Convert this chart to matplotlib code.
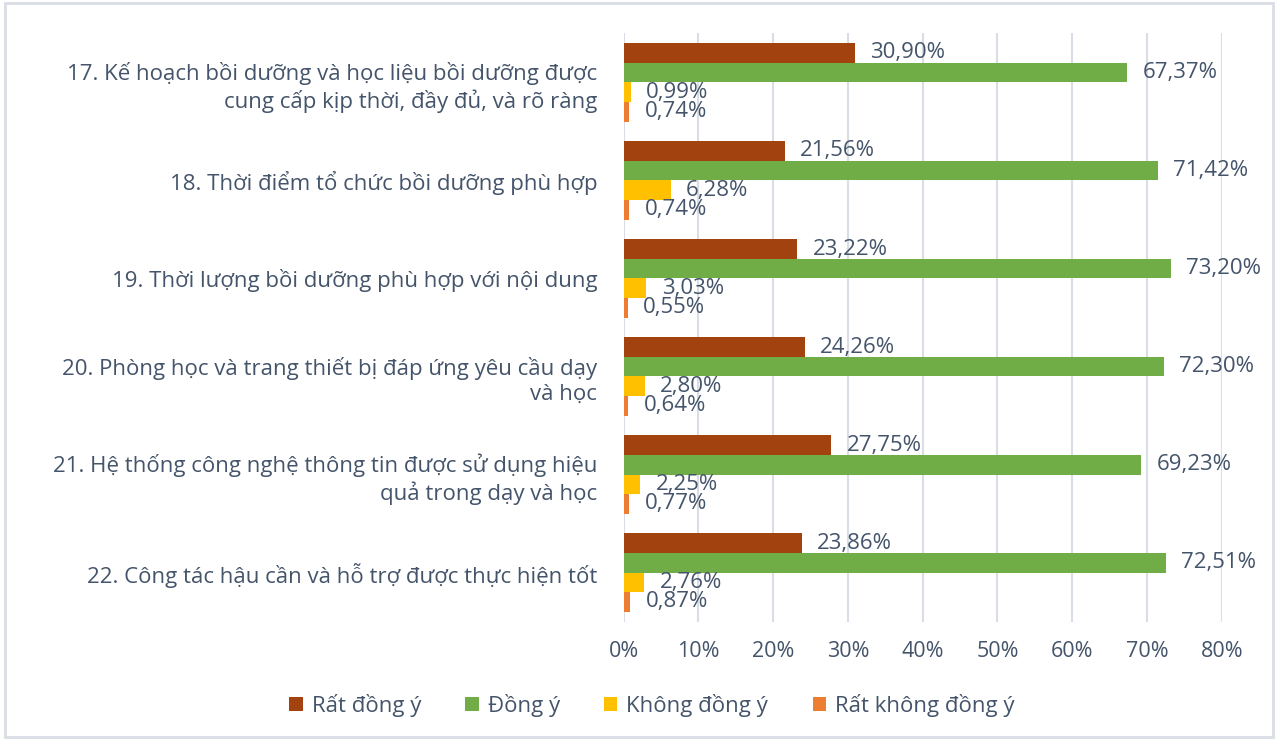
import matplotlib.pyplot as plt
import numpy as np
from matplotlib.patches import Rectangle

categories = [
    "17. Kế hoạch bồi dưỡng và học liệu bồi dưỡng được\ncung cấp kịp thời, đầy đủ, và rõ ràng",
    "18. Thời điểm tổ chức bồi dưỡng phù hợp",
    "19. Thời lượng bồi dưỡng phù hợp với nội dung",
    "20. Phòng học và trang thiết bị đáp ứng yêu cầu dạy\nvà học",
    "21. Hệ thống công nghệ thông tin được sử dụng hiệu\nquả trong dạy và học",
    "22. Công tác hậu cần và hỗ trợ được thực hiện tốt",
]
series_names = ["Rất đồng ý", "Đồng ý", "Không đồng ý", "Rất không đồng ý"]
rat_dong_y = [30.90, 21.56, 23.22, 24.26, 27.75, 23.86]
dong_y = [67.37, 71.42, 73.20, 72.30, 69.23, 72.51]
khong_dong_y = [0.99, 6.28, 3.03, 2.80, 2.25, 2.76]
rat_khong_dong_y = [0.74, 0.74, 0.55, 0.64, 0.77, 0.87]
x_ticks = [0, 10, 20, 30, 40, 50, 60, 70, 80]

colors = ["#A1420F", "#70AD47", "#FFC000", "#ED7D31"]
text_color = "#44546A"

plt.rcParams["font.family"] = ["Open Sans", "DejaVu Sans"]

fig = plt.figure(figsize=(12.78, 7.4), dpi=100)
ax = fig.add_axes([0.488, 0.16, 0.468, 0.795])

values = [rat_dong_y, dong_y, khong_dong_y, rat_khong_dong_y]
n = len(categories)
bar_h = 0.2
y_base = np.arange(n)
for i, (name, vals) in enumerate(zip(series_names, values)):
    ys = y_base - 0.3 + i * bar_h
    ax.barh(ys, vals, height=bar_h, color=colors[i], label=name, zorder=3)
    for y, v in zip(ys, vals):
        ax.annotate(f"{v:.2f}%".replace(".", ","), (v, y), xytext=(11, 0),
                    textcoords="offset points", va="center", ha="left",
                    fontsize=16, color=text_color)

ax.set_ylim(n - 0.5, -0.5)
ax.set_xlim(0, 80)
ax.set_xticks(x_ticks)
ax.set_xticklabels([f"{t}%" for t in x_ticks], fontsize=15.5, color=text_color)
ax.set_yticks(y_base)
ax.set_yticklabels(categories, fontsize=16, color=text_color, ha="right",
                   linespacing=1.25)
ax.tick_params(axis="y", length=0, pad=19)
ax.tick_params(axis="x", length=0, pad=14)
ax.grid(axis="x", color="#D9DDE5", linewidth=1.5, zorder=0)
for s in ax.spines.values():
    s.set_visible(False)

ax.legend(loc="center", bbox_to_anchor=(0.51, 0.047), bbox_transform=fig.transFigure,
          ncol=4, frameon=False, fontsize=16, handlelength=0.6, handleheight=0.6,
          columnspacing=2.0, handletextpad=0.4, labelcolor=text_color)

fig.patches.append(Rectangle((0.004, 0.004), 0.992, 0.992, transform=fig.transFigure,
                             fill=False, edgecolor="#D9DDE5", linewidth=2))

fig.savefig("out.png", dpi=100)
